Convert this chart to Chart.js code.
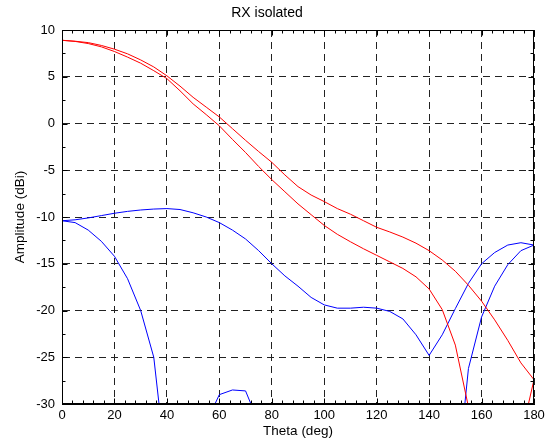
<!DOCTYPE html>
<html>
<head>
<meta charset="utf-8">
<script src="https://cdn.jsdelivr.net/npm/chart.js@4.4.1/dist/chart.umd.min.js"></script>
<style>
  html, body { margin: 0; padding: 0; background: #fff; }
  #wrap { width: 549px; height: 443px; position: relative; }
</style>
</head>
<body>
<div id="wrap"><canvas id="chart_rxIsolated"></canvas></div>
<script>
// theta in degrees, amplitude in dBi (values below -30 are off the axis)
var theta = [0, 5, 10, 15, 20, 25, 30, 35, 40, 45, 50, 55, 60, 65, 70, 75, 80, 85, 90,
             95, 100, 105, 110, 115, 120, 125, 130, 135, 140, 145, 150, 155, 160, 165, 170, 175, 180];

var coA = [8.9, 8.8, 8.65, 8.35, 7.95, 7.45, 6.8, 6.05, 5.1, 4.0, 2.8, 1.75, 0.7, -0.55, -1.8, -3.0,
           -4.15, -5.5, -6.75, -7.65, -8.35, -9.1, -9.7, -10.4, -11.1, -11.6, -12.15, -12.8, -13.6,
           -14.6, -15.8, -17.3, -19.0, -21.0, -23.2, -25.6, -27.4];

var coB = [8.9, 8.78, 8.55, 8.2, 7.7, 7.1, 6.45, 5.65, 4.8, 3.5, 2.1, 0.95, -0.25, -1.7, -3.1, -4.6,
           -6.0, -7.3, -8.6, -9.75, -10.9, -11.85, -12.65, -13.4, -14.1, -14.8, -15.5, -16.4, -17.7,
           -19.9, -23.7, -30.3, -36.5, -41, -39, -33.5, -27.4];

var xpA = [-10.4, -10.3, -10.1, -9.85, -9.6, -9.4, -9.25, -9.15, -9.1, -9.2, -9.55, -10.0, -10.6,
           -11.4, -12.35, -13.6, -15.0, -16.3, -17.4, -18.6, -19.4, -19.75, -19.75, -19.65, -19.75,
           -20.1, -20.9, -22.6, -24.8, -22.6, -19.8, -17.1, -15.0, -13.8, -13.0, -12.75, -13.0];

var xpB = [-10.4, -10.6, -11.4, -12.6, -14.2, -16.6, -20.0, -25.0, -37.5, -44, -42, -32, -29.0,
           -28.5, -28.6, -32, -38, -43, -45, -46, -46, -45, -44, -44, -45, -47, -48, -46, -44, -42,
           -40, -26.2, -20.7, -17.4, -15.1, -13.6, -13.0];

var xTicks = [0, 20, 40, 60, 80, 100, 120, 140, 160, 180];
var yTicks = [-30, -25, -20, -15, -10, -5, 0, 5, 10];

var FONT = "'Liberation Sans', Arial, Helvetica, sans-serif";

function pts(ys) {
    return theta.map(function (t, i) { return { x: t, y: ys[i] }; });
}

function series(label, ys, color) {
    return {
        label: label,
        data: pts(ys),
        borderColor: color,
        borderWidth: 1,
        pointRadius: 0,
        tension: 0,
        fill: false
    };
}

var chart_rxIsolated = new Chart(document.getElementById('chart_rxIsolated'), {
    type: 'line',
    data: {
        datasets: [
            series('co-pol 1', coA, '#ff0000'),
            series('co-pol 2', coB, '#ff0000'),
            series('x-pol 1', xpA, '#0000ff'),
            series('x-pol 2', xpB, '#0000ff')
        ]
    },
    options: {
        animation: false,
        responsive: true,
        maintainAspectRatio: false,
        layout: { padding: { top: 0, right: 15, bottom: 0, left: 0 } },
        plugins: {
            legend: { display: false },
            tooltip: { enabled: false },
            title: {
                display: true,
                text: 'RX isolated',
                color: '#000',
                font: { family: FONT, size: 14, weight: 'normal' },
                padding: { top: 5, bottom: 8.2 }
            }
        },
        scales: {
            x: {
                type: 'linear',
                min: 0,
                max: 180,
                afterBuildTicks: function (s) { s.ticks = xTicks.map(function (v) { return { value: v }; }); },
                afterFit: function (s) { s.height = 39; },
                ticks: { color: '#000', padding: 4, maxRotation: 0, font: { family: FONT, size: 13 } },
                grid: { color: '#222', drawTicks: false },
                border: { display: true, color: '#000', dash: [7, 5] },
                title: {
                    display: true,
                    text: 'Theta (deg)',
                    color: '#000',
                    font: { family: FONT, size: 13.5 },
                    padding: { top: 0, bottom: 3.5 }
                }
            },
            y: {
                type: 'linear',
                min: -30,
                max: 10,
                afterBuildTicks: function (s) { s.ticks = yTicks.map(function (v) { return { value: v }; }); },
                afterFit: function (s) { s.width = 62; },
                ticks: { color: '#000', padding: 7, font: { family: FONT, size: 13 } },
                grid: { color: '#222', drawTicks: false },
                border: { display: true, color: '#000', dash: [7, 5] },
                title: {
                    display: true,
                    text: 'Amplitude (dBi)',
                    color: '#000',
                    font: { family: FONT, size: 13.5 },
                    padding: { top: 12, bottom: 0 }
                }
            }
        }
    },
    plugins: [{
        id: 'customPlugin',
        beforeDraw: (chart, args, options) => {
            const ctx = chart.canvas.getContext('2d');
            ctx.save();
            ctx.globalCompositeOperation = 'destination-over';
            ctx.fillStyle = 'white';
            ctx.fillRect(0, 0, chart.canvas.width, chart.canvas.height);
            ctx.restore();
        },
        afterDraw: (chart) => {
            // box round the plot and inward tick marks, matlab style
            const ctx = chart.ctx;
            const a = chart.chartArea;
            const x = chart.scales.x, y = chart.scales.y;
            const L = Math.round(a.left) + 0.5, R = Math.round(a.right) - 0.5;
            const T = Math.round(a.top) + 0.5, B = Math.round(a.bottom) - 0.5;
            ctx.save();
            ctx.strokeStyle = '#000';
            ctx.lineWidth = 1;
            ctx.setLineDash([]);
            ctx.strokeRect(L, T, R - L, B - T);
            ctx.beginPath();
            for (let v = 0; v <= 180; v += 4) {
                const px = Math.round(x.getPixelForValue(v)) + 0.5;
                const len = v % 20 === 0 ? 5 : 3;
                ctx.moveTo(px, B); ctx.lineTo(px, B - len);
                ctx.moveTo(px, T); ctx.lineTo(px, T + len);
            }
            for (let v = -30; v <= 10; v += 2.5) {
                const py = Math.round(y.getPixelForValue(v)) + 0.5;
                const len = v % 5 === 0 ? 5 : 3;
                ctx.moveTo(L, py); ctx.lineTo(L + len, py);
                ctx.moveTo(R, py); ctx.lineTo(R - len, py);
            }
            ctx.stroke();
            ctx.restore();
        }
    }]
});
</script>
</body>
</html>
